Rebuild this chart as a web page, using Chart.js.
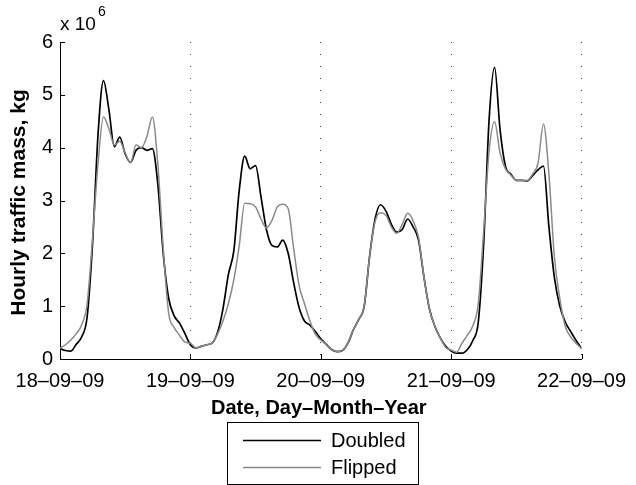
<!DOCTYPE html>
<html>
<head>
<meta charset="utf-8">
<style>
  html, body { margin: 0; padding: 0; background: #fff; overflow: hidden; }
  canvas { display: block; }
</style>
<script src="https://cdn.jsdelivr.net/npm/chart.js@4.4.1/dist/chart.umd.min.js"></script>
</head>
<body>
<canvas id="traffic" width="636" height="485"></canvas>
<script>
// Day boundaries shown on the time axis (one tick every 24 hours)
const dayLabels = ['18–09–09', '19–09–09', '20–09–09', '21–09–09', '22–09–09'];
const hoursPerDay = 24;

// Hourly traffic mass, in units of 10^6 kg, from 18-09-09 00:00 to 22-09-09 00:00
const doubled = [
  // 18-09-09
  0.20, 0.16, 0.15, 0.28, 0.42, 0.80, 2.20, 4.25, 5.27, 4.72, 4.02, 4.20,
  3.88, 3.72, 3.95, 4.00, 3.95, 3.98, 3.32, 2.00, 1.15, 0.82, 0.68, 0.48,
  // 19-09-09
  0.27, 0.21, 0.24, 0.27, 0.30, 0.50, 0.95, 1.60, 2.05, 3.20, 3.84, 3.60,
  3.66, 3.07, 2.45, 2.15, 2.12, 2.25, 2.00, 1.45, 0.98, 0.72, 0.64, 0.52,
  // 20-09-09
  0.38, 0.28, 0.18, 0.14, 0.16, 0.30, 0.55, 0.75, 1.00, 1.95, 2.65, 2.92,
  2.80, 2.55, 2.40, 2.45, 2.65, 2.50, 2.25, 1.55, 0.95, 0.62, 0.40, 0.24,
  // 21-09-09
  0.15, 0.11, 0.11, 0.18, 0.35, 0.70, 2.20, 4.55, 5.52, 4.35, 3.65, 3.50,
  3.38, 3.38, 3.37, 3.47, 3.58, 3.65, 2.50, 1.55, 1.00, 0.70, 0.52, 0.35,
  // 22-09-09 00:00
  0.20
];
const flipped = [
  // 18-09-09
  0.20, 0.27, 0.36, 0.48, 0.65, 1.05, 2.30, 3.70, 4.58, 4.36, 4.05, 4.12,
  3.90, 3.72, 4.05, 4.00, 4.21, 4.58, 3.70, 2.10, 0.87, 0.60, 0.45, 0.32,
  // 19-09-09
  0.30, 0.21, 0.24, 0.27, 0.30, 0.47, 0.72, 1.05, 1.50, 2.15, 2.95, 2.94,
  2.88, 2.65, 2.48, 2.62, 2.88, 2.93, 2.85, 2.10, 1.40, 1.05, 0.72, 0.47,
  // 20-09-09
  0.36, 0.28, 0.18, 0.14, 0.16, 0.30, 0.55, 0.75, 1.00, 1.95, 2.60, 2.77,
  2.72, 2.50, 2.38, 2.55, 2.76, 2.62, 2.30, 1.55, 0.95, 0.62, 0.40, 0.22,
  // 21-09-09
  0.17, 0.13, 0.30, 0.45, 0.63, 1.05, 2.44, 3.95, 4.49, 3.90, 3.60, 3.48,
  3.38, 3.38, 3.38, 3.50, 3.71, 4.45, 3.50, 1.94, 1.15, 0.62, 0.42, 0.30,
  // 22-09-09 00:00
  0.20
];

const seriesNames = ['Doubled', 'Flipped'];
const yMin = 0, yMax = 6, yStep = 1;

const FONT = "'Liberation Sans', Arial, Helvetica, sans-serif";

const toPoints = arr => arr.map((v, i) => ({ x: i, y: v }));

// Axis decorations drawn around the plot: inward tick marks, exponent,
// axis titles and the boxed legend underneath the x-axis title.
const decorations = {
  id: 'decorations',
  afterDraw(chart) {
    const { ctx, chartArea: a, scales: { x, y } } = chart;
    ctx.save();

    // inward ticks
    ctx.strokeStyle = '#000';
    ctx.lineWidth = 1;
    ctx.beginPath();
    for (const t of y.ticks) {
      const py = Math.round(y.getPixelForValue(t.value)) + 0.5;
      ctx.moveTo(a.left, py);
      ctx.lineTo(a.left + 5, py);
    }
    for (const t of x.ticks) {
      const px = Math.round(x.getPixelForValue(t.value)) + 0.5;
      ctx.moveTo(px, a.bottom);
      ctx.lineTo(px, a.bottom - 5);
    }
    ctx.stroke();

    ctx.fillStyle = '#000';
    ctx.textBaseline = 'alphabetic';

    // scale exponent above the y-axis
    ctx.textAlign = 'left';
    ctx.font = `19px ${FONT}`;
    ctx.fillText('x 10', a.left, 30);
    const w = ctx.measureText('x 10').width;
    ctx.font = `14px ${FONT}`;
    ctx.fillText('6', a.left + w + 2, 16);

    // x-axis title
    ctx.font = `bold 20px ${FONT}`;
    ctx.textAlign = 'center';
    ctx.fillText('Date, Day–Month–Year', (a.left + a.right) / 2 - 2, 414);

    // y-axis title
    ctx.save();
    ctx.translate(25, (a.top + a.bottom) / 2 + 2);
    ctx.rotate(-Math.PI / 2);
    ctx.font = `bold 21px ${FONT}`;
    ctx.textAlign = 'center';
    ctx.fillText('Hourly traffic mass, kg', 0, 0);
    ctx.restore();

    // legend box
    const box = { l: 227.5, t: 422.5, r: 418.5, b: 484.5 };
    ctx.fillStyle = '#fff';
    ctx.fillRect(box.l, box.t, box.r - box.l, box.b - box.t);
    ctx.strokeStyle = '#000';
    ctx.lineWidth = 1;
    ctx.strokeRect(box.l, box.t, box.r - box.l, box.b - box.t);
    const rows = [440.5, 467.5];
    ctx.font = `20px ${FONT}`;
    ctx.textAlign = 'left';
    ctx.textBaseline = 'middle';
    chart.data.datasets.forEach((ds, i) => {
      const ry = rows[i];
      ctx.strokeStyle = ds.borderColor;
      ctx.lineWidth = ds.borderWidth;
      ctx.beginPath();
      ctx.moveTo(243, ry);
      ctx.lineTo(321, ry);
      ctx.stroke();
      ctx.fillStyle = '#000';
      ctx.fillText(ds.label, 331, ry + 1);
    });

    ctx.restore();
  }
};

new Chart(document.getElementById('traffic'), {
  type: 'line',
  data: {
    datasets: [
      {
        label: seriesNames[0],
        data: toPoints(doubled),
        borderColor: '#000000',
        borderWidth: 1.7,
        pointRadius: 0,
        cubicInterpolationMode: 'monotone',
        fill: false,
        order: 1
      },
      {
        label: seriesNames[1],
        data: toPoints(flipped),
        borderColor: '#8a8a8a',
        borderWidth: 1.5,
        pointRadius: 0,
        cubicInterpolationMode: 'monotone',
        fill: false,
        order: 0
      }
    ]
  },
  options: {
    responsive: false,
    devicePixelRatio: 1,
    animation: false,
    events: [],
    layout: { padding: { top: 42, right: 49, left: 0, bottom: 0 } },
    plugins: {
      legend: { display: false },
      tooltip: { enabled: false },
      title: { display: false }
    },
    scales: {
      x: {
        type: 'linear',
        min: 0,
        max: (dayLabels.length - 1) * hoursPerDay,
        afterFit: s => { s.height = 126; },
        ticks: {
          stepSize: hoursPerDay,
          autoSkip: false,
          maxRotation: 0,
          padding: 10,
          color: '#000',
          font: { family: FONT, size: 20 },
          callback: v => (v % hoursPerDay === 0 ? dayLabels[v / hoursPerDay] : '')
        },
        grid: {
          display: true,
          drawTicks: false,
          color: '#444',
          lineWidth: 1
        },
        border: { display: true, color: '#000', width: 1, dash: [1, 11] }
      },
      y: {
        type: 'linear',
        min: yMin,
        max: yMax,
        afterFit: s => { s.width = 60; },
        ticks: {
          stepSize: yStep,
          padding: 7,
          color: '#000',
          font: { family: FONT, size: 20 }
        },
        grid: { display: false, drawTicks: false },
        border: { display: true, color: '#000', width: 1 }
      }
    }
  },
  plugins: [decorations]
});
</script>
</body>
</html>
